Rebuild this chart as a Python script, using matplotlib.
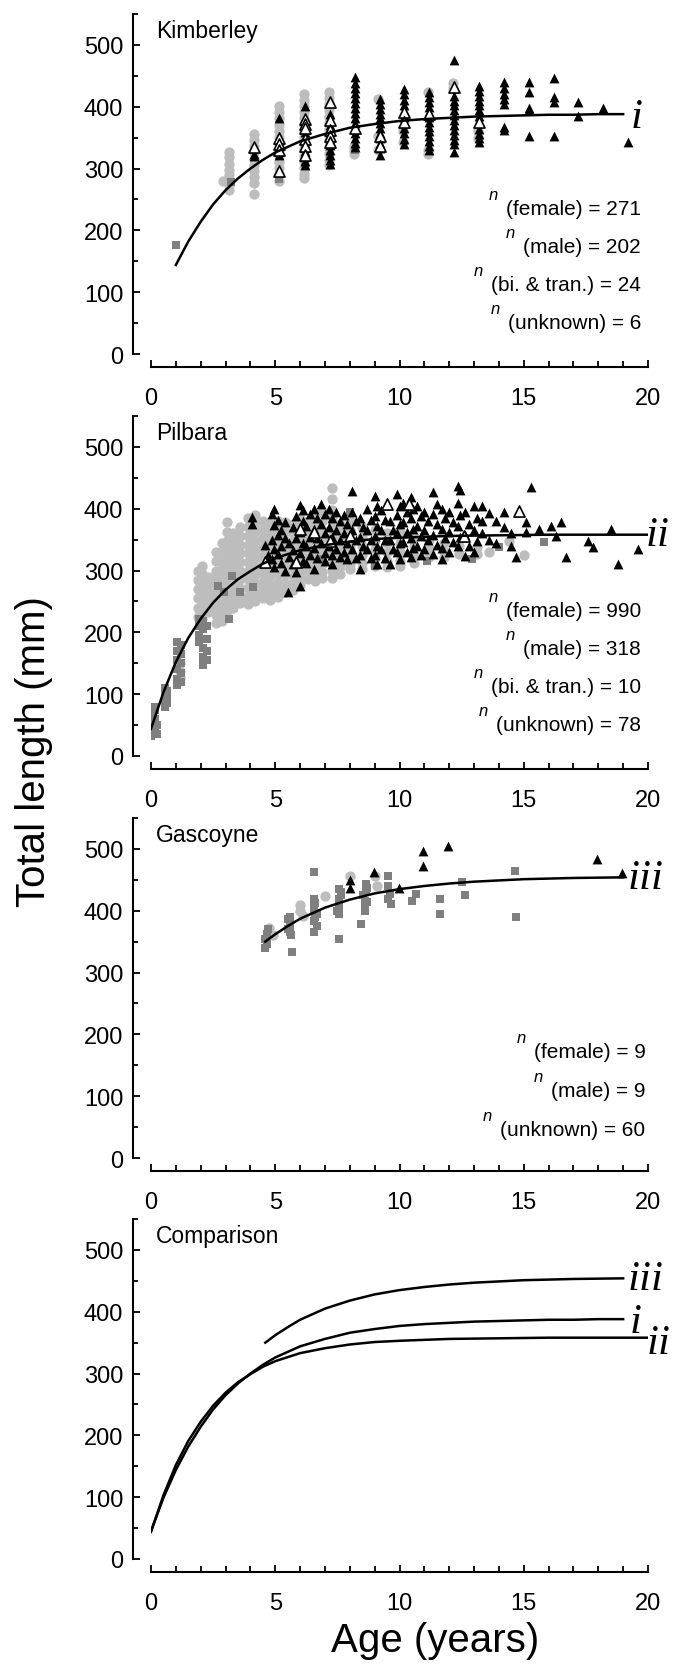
#!/usr/bin/env python3

"""
Total length at age, by region, with fitted growth curves
"""

import matplotlib
matplotlib.use("Agg")
import matplotlib.pyplot as plt
from matplotlib.ticker import MultipleLocator

plt.rcParams["font.family"] = ["Liberation Sans", "DejaVu Sans"]

# ---- fitted growth curves ----
curve_i_age = [0, 0.5, 1, 1.5, 2, 2.5, 3, 3.5, 4, 4.5, 5, 6, 7, 8, 9, 10, 11, 12, 13, 14, 15, 16, 17, 18, 19]
curve_i_len = [45, 99, 144, 182, 214, 242, 265, 284, 300, 314, 326, 344, 356, 366, 372, 377, 380, 382, 384, 385, 386, 387, 387, 388, 388]
curve_ii_age = [0, 0.5, 1, 1.5, 2, 2.5, 3, 3.5, 4, 4.5, 5, 6, 7, 8, 9, 10, 12, 14, 16, 18, 20]
curve_ii_len = [44, 103, 152, 191, 222, 248, 269, 286, 299, 311, 320, 333, 341, 347, 351, 353, 356, 357, 358, 358, 358]
curve_iii_age = [4.6, 5, 5.5, 6, 6.5, 7, 8, 9, 10, 11, 12, 13, 15, 17, 19]
curve_iii_len = [350, 362, 375, 387, 396, 405, 418, 428, 435, 440, 444, 447, 451, 453, 454]

# ---- Kimberley (columns: age, lengths) ----
kim_female = [
    (2.9, [280]),
    (3.15, [327, 318, 308, 298, 290, 282, 274, 266]),
    (4.15, [356, 346, 336, 326, 316, 306, 296, 286, 277, 259]),
    (5.15, [401, 391, 381, 371, 361, 351, 341, 331, 321, 311, 301, 291, 280]),
    (6.15, [421, 411, 401, 391, 381, 371, 361, 351, 341, 331, 321, 311, 301, 291, 284]),
    (7.15, [424, 414, 404, 394, 384, 374, 364, 354, 344, 334, 324, 314, 305]),
    (8.15, [337, 330, 324]),
    (9.15, [413, 353, 330]),
    (10.15, [343, 360]),
    (11.15, [424, 330, 324]),
    (12.15, [438, 430]),
    (13.15, [360, 350]),
]
kim_male = [
    (4.15, [324, 320]),
    (5.15, [382, 346, 336, 322]),
    (6.2, [401, 370, 359, 350, 342, 335, 328, 320, 312, 305]),
    (7.2, [388, 380, 371, 362, 354, 346, 338, 330, 322, 314, 308]),
    (8.2, [448, 438, 430, 422, 414, 406, 398, 390, 382, 374, 366, 358, 350, 342, 335]),
    (9.2, [413, 405, 397, 389, 381, 373, 365, 357, 349, 341, 333, 322]),
    (10.2, [429, 420, 411, 402, 393, 384, 375, 366, 357, 348, 340]),
    (11.2, [424, 416, 408, 400, 392, 384, 376, 368, 360, 352, 344, 336, 330]),
    (12.2, [476, 418, 410, 402, 394, 386, 378, 370, 362, 354, 346, 340, 327]),
    (13.2, [434, 426, 418, 410, 402, 394, 385, 364, 356, 349, 343]),
    (14.2, [440, 430, 421, 412, 404, 368, 362]),
    (15.2, [440, 424, 398, 394, 353]),
    (16.2, [447, 416, 408, 353]),
    (17.2, [408, 385]),
    (18.2, [398]),
    (19.2, [343]),
]
kim_bitran = [
    (4.15, [335]),
    (5.15, [350, 340, 330, 296]),
    (6.2, [380, 372, 365, 348, 336, 322]),
    (7.2, [408, 378, 362, 352, 343]),
    (8.2, [366]),
    (9.2, [352, 337]),
    (10.2, [391, 375]),
    (11.2, [388]),
    (12.2, [432]),
    (13.2, [375]),
]
kim_unknown = [(1.0, [176]), (3.2, [278]), (5.15, [283]), (6.2, [306]), (7.2, [320]), (8.2, [330])]

# ---- Pilbara ----
pil_female = [
    (1.15, [150, 138, 126]),
    (1.9, [300, 285, 270, 255, 240, 225]),
    (2.05, [307, 295, 282, 270, 258, 246, 234, 222]),
    (2.3, [290, 278, 266, 254, 242, 233]),
    (2.6, [330, 315, 300, 288, 276, 264, 252, 240, 228, 215]),
    (2.85, [345, 330, 316, 302, 290, 278, 266, 254, 242, 230, 218]),
    (3.05, [378, 362, 348, 334, 320, 306, 294, 282, 270, 258, 246, 234]),
    (3.3, [360, 346, 332, 318, 304, 290, 276, 262, 250, 240]),
    (3.6, [370, 356, 342, 328, 314, 300, 286, 272, 260, 248]),
    (3.9, [385, 370, 356, 342, 328, 314, 300, 286, 272, 258, 246]),
    (4.2, [390, 376, 362, 348, 334, 320, 306, 292, 278, 264, 250]),
    (4.5, [380, 366, 352, 338, 324, 310, 296, 282, 268, 255]),
    (4.8, [375, 361, 347, 333, 319, 305, 291, 277, 263, 252]),
    (5.1, [380, 366, 352, 338, 324, 310, 296, 282, 268, 258]),
    (5.4, [378, 364, 350, 336, 322, 308, 294, 280, 266]),
    (5.7, [375, 361, 347, 333, 319, 305, 291, 278, 268]),
    (6.0, [385, 370, 356, 342, 328, 314, 300, 288, 276]),
    (6.3, [380, 366, 352, 338, 324, 310, 298, 286]),
    (6.6, [390, 375, 361, 347, 333, 319, 305, 292, 283]),
    (6.9, [395, 380, 366, 352, 338, 324, 310, 298, 288]),
    (7.3, [433, 415, 398, 383, 369, 355, 341, 327, 313, 300, 288]),
    (7.6, [375, 362, 348, 334, 320, 306, 294]),
    (8.0, [380, 366, 352, 338, 324, 310, 302]),
    (8.5, [370, 355, 340, 325, 312, 303]),
    (9.0, [365, 350, 335, 320, 308]),
    (9.5, [360, 345, 330, 316, 306]),
    (10.0, [360, 345, 330, 316, 307]),
    (10.6, [355, 340, 325, 312]),
    (11.2, [350, 336, 322]),
    (11.8, [345, 332, 322]),
    (12.4, [340, 327]),
    (13.1, [338, 327]),
    (13.6, [330]),
    (14.4, [348]),
    (15.0, [325]),
]
pil_male = [
    (4.05, [387, 376]), (4.6, [341]), (4.7, [325]),
    (4.85, [392, 350, 318]), (4.95, [399, 374, 335, 305]), (5.1, [382, 358, 326]),
    (5.25, [365, 340, 312]), (5.4, [378, 352, 300]), (5.5, [265]), (5.55, [345, 322]),
    (5.7, [370, 333, 310]), (5.85, [388, 352, 298]), (6.0, [406, 362, 329, 275]),
    (6.1, [398, 380, 345, 315]), (6.25, [372, 340, 312]), (6.4, [392, 355, 325]),
    (6.55, [400, 368, 336, 303]), (6.7, [385, 352, 320]), (6.85, [408, 376, 344]),
    (7.0, [392, 360, 328, 315]), (7.15, [400, 370, 340]), (7.3, [385, 355, 325, 310]),
    (7.45, [395, 365, 335]), (7.6, [380, 350, 322]), (7.75, [390, 360, 330]),
    (7.9, [375, 345, 318]), (8.1, [429, 395, 365, 335]), (8.25, [380, 350, 320]),
    (8.4, [385, 355, 325, 303]), (8.55, [370, 340]), (8.7, [400, 366, 335]),
    (8.85, [382, 350, 320]), (9.0, [421, 388, 356, 325]), (9.1, [405, 372, 340, 311]),
    (9.25, [398, 366, 335]), (9.4, [382, 350, 320]), (9.6, [380, 350, 310]),
    (9.75, [365, 335]), (9.9, [424, 390, 360, 330]), (10.0, [405, 375, 345, 318]),
    (10.15, [410, 378, 346]), (10.3, [394, 362, 330]), (10.45, [419, 385, 352, 322]),
    (10.55, [400, 368, 336]), (10.7, [405, 372, 340]), (10.85, [388, 356, 325]),
    (11.0, [395, 365, 335]), (11.15, [380, 350]), (11.35, [427, 392, 358, 326]),
    (11.5, [408, 375, 342]), (11.7, [400, 368, 336, 319]), (11.85, [385, 352]),
    (12.0, [395, 362, 330]), (12.15, [378, 346]), (12.35, [437, 410, 372, 340]),
    (12.45, [430, 390, 355]), (12.65, [395, 358, 324]), (12.8, [375, 340]),
    (13.0, [405, 365, 330]), (13.1, [385, 348]), (13.3, [405, 380, 360]),
    (13.6, [393, 350]), (13.9, [380, 345]), (14.2, [395, 370]), (14.5, [360, 340]),
    (14.7, [322]), (15.1, [378, 362]), (15.3, [435]), (15.6, [367]), (16.1, [372]),
    (16.3, [356]), (16.5, [378]), (16.7, [322]), (17.6, [348]), (17.8, [338]),
    (18.5, [367]), (18.8, [311]), (19.6, [335]),
]
pil_bitran = [(4.6, [314]), (5.85, [314]), (6.0, [368]), (6.55, [362]), (7.2, [348]),
              (8.0, [356]), (9.5, [408]), (10.4, [408]), (12.6, [356]), (14.8, [396])]
pil_unknown = [
    (0.02, [32, 40, 48, 56, 64, 72]),
    (0.15, [45, 60, 75, 80]),
    (0.25, [35, 50]),
    (0.55, [110, 100, 90, 80]),
    (0.65, [105, 95, 85]),
    (1.05, [185, 170, 155, 140, 125, 115]),
    (1.2, [180, 165, 150, 135, 120]),
    (1.95, [222, 210, 195, 185]),
    (2.1, [218, 205, 190, 175, 160, 148]),
    (2.25, [210, 190, 170, 155]),
    (2.7, [275]), (2.95, [265]), (3.15, [222]), (3.25, [291]), (3.6, [265]),
    (4.1, [273]), (6.9, [319]), (8.0, [395]), (9.0, [308]), (11.1, [316]),
    (12.9, [319]), (14.0, [338]), (15.8, [346]),
]

# ---- Gascoyne ----
gas_female = [(4.75, [372]), (4.9, [360]), (6.0, [410, 400]), (6.1, [392]), (7.0, [424]),
              (8.0, [456]), (9.0, [456]), (9.1, [440])]
gas_male = [(8.0, [449, 436]), (8.97, [463]), (9.97, [436]), (10.96, [496, 473]),
            (11.96, [505]), (17.94, [484]), (18.96, [461])]
gas_unknown = [
    (4.57, [339, 354]), (4.65, [346, 362]), (4.7, [371]),
    (5.5, [386, 370]), (5.58, [390, 381, 373, 365]), (5.63, [360]), (5.68, [333]),
    (6.56, [463, 419, 408, 400, 384, 365]), (6.6, [390, 412]), (6.68, [376, 395]),
    (7.5, [400]), (7.56, [435, 419, 408, 395, 354]), (7.65, [425, 430]),
    (8.46, [378]), (8.55, [425]), (8.6, [400, 416, 408]), (8.67, [443, 433]), (8.7, [414, 437]),
    (9.53, [456, 440, 419]), (9.6, [427]), (9.67, [411]),
    (10.5, [416]), (10.66, [427]), (11.63, [419, 394]),
    (12.53, [446]), (12.64, [425]), (14.65, [464]), (14.7, [390]),
]

# ---- n labels ----
kim_n = ["(female) = 271", "(male) = 202", "(bi. & tran.) = 24", "(unknown) = 6"]
pil_n = ["(female) = 990", "(male) = 318", "(bi. & tran.) = 10", "(unknown) = 78"]
gas_n = ["(female) = 9", "(male) = 9", "(unknown) = 60"]


def flat(cols):
    xs, ys = [], []
    for a, vals in cols:
        for v in vals:
            xs.append(a)
            ys.append(v)
    return xs, ys


W, H = 685, 1674
fig = plt.figure(figsize=(W / 100, H / 100), dpi=100)

LIGHT = "#bdbdbd"
DARK = "#7f7f7f"


def make_axes(bottom):
    ax = fig.add_axes([151 / W, bottom / H, 497 / W, 340 / H])
    ax.patch.set_visible(False)
    ax.set_xlim(0, 20)
    ax.set_ylim(0, 550)
    ax.spines["top"].set_visible(False)
    ax.spines["right"].set_visible(False)
    ax.spines["left"].set_position(("outward", 13))
    ax.spines["bottom"].set_position(("outward", 9.5))
    ax.spines["left"].set_linewidth(1.5)
    ax.spines["bottom"].set_linewidth(1.5)
    ax.xaxis.set_major_locator(MultipleLocator(5))
    ax.xaxis.set_minor_locator(MultipleLocator(1))
    ax.yaxis.set_major_locator(MultipleLocator(100))
    ax.yaxis.set_minor_locator(MultipleLocator(50))
    ax.tick_params(which="both", direction="in", width=1.3, labelsize=17)
    ax.tick_params(axis="x", which="major", length=5, pad=14)
    ax.tick_params(axis="x", which="minor", length=4)
    ax.tick_params(axis="y", which="major", length=5, pad=7)
    ax.tick_params(axis="y", which="minor", length=3.5)
    return ax


def scatter_all(ax, female, male, bitran, unknown):
    x, y = flat(female)
    ax.scatter(x, y, s=55, marker="o", color=LIGHT, linewidths=0, zorder=2)
    x, y = flat(unknown)
    ax.scatter(x, y, s=38, marker="s", color=DARK, linewidths=0, zorder=3)
    x, y = flat(male)
    ax.scatter(x, y, s=50, marker="^", color="black", linewidths=0, zorder=4)
    if bitran:
        x, y = flat(bitran)
        ax.scatter(x, y, s=64, marker="^", facecolor="white", edgecolor="black",
                   linewidths=1.2, zorder=5)


def roman(ax, x, y, s):
    ax.text(x, y, s, family="Liberation Serif", style="italic", fontsize=31,
            ha="left", va="baseline", zorder=7)


n_texts = []


def n_labels(ax, labels, xr, ys):
    for lab, yy in zip(labels, ys):
        t = ax.text(xr, yy, lab, fontsize=15, ha="right", va="baseline")
        n_texts.append(t)


# Kimberley
ax1 = make_axes(1319)
scatter_all(ax1, kim_female, kim_male, kim_bitran, kim_unknown)
ax1.plot([a for a in curve_i_age if a >= 1], curve_i_len[2:], color="black", lw=1.8, zorder=6)
roman(ax1, 19.3, 367, "i")
ax1.text(0.2, 542, "Kimberley", fontsize=16.5, ha="left", va="top")
n_labels(ax1, kim_n, 19.72, [226, 165, 103, 42])

# Pilbara
ax2 = make_axes(917)
scatter_all(ax2, pil_female, pil_male, pil_bitran, pil_unknown)
ax2.plot(curve_ii_age, curve_ii_len, color="black", lw=1.8, zorder=6)
roman(ax2, 19.9, 341, "ii")
ax2.text(0.2, 542, "Pilbara", fontsize=16.5, ha="left", va="top")
n_labels(ax2, pil_n, 19.72, [226, 165, 103, 42])

# Gascoyne
ax3 = make_axes(515)
scatter_all(ax3, gas_female, gas_male, None, gas_unknown)
ax3.plot(curve_iii_age, curve_iii_len, color="black", lw=1.8, zorder=6)
roman(ax3, 19.17, 436, "iii")
ax3.text(0.2, 542, "Gascoyne", fontsize=16.5, ha="left", va="top")
n_labels(ax3, gas_n, 19.9, [163, 100, 37])

# Comparison
ax4 = make_axes(114)
ax4.plot(curve_i_age, curve_i_len, color="black", lw=1.8)
ax4.plot(curve_ii_age, curve_ii_len, color="black", lw=1.8)
ax4.plot(curve_iii_age, curve_iii_len, color="black", lw=1.8)
roman(ax4, 19.17, 436, "iii")
roman(ax4, 19.26, 367, "i")
roman(ax4, 19.96, 334, "ii")
ax4.text(0.2, 542, "Comparison", fontsize=16.5, ha="left", va="top")

fig.text(34 / W, 922 / H, "Total length (mm)", rotation=90, fontsize=29,
         ha="center", va="center")
fig.text(435 / W, 33 / H, "Age (years)", fontsize=29, ha="center", va="center")

# small italic n raised in front of each count label
fig.canvas.draw()
r = fig.canvas.get_renderer()
for t in n_texts:
    bb = t.get_window_extent(r)
    base = t.get_transform().transform(t.get_position())[1]
    fig.text((bb.x0 - 8) / W, (base + 15) / H, "n", fontsize=12, style="italic",
             ha="right", va="baseline")

fig.savefig("out.png", dpi=100)
plt.close(fig)
